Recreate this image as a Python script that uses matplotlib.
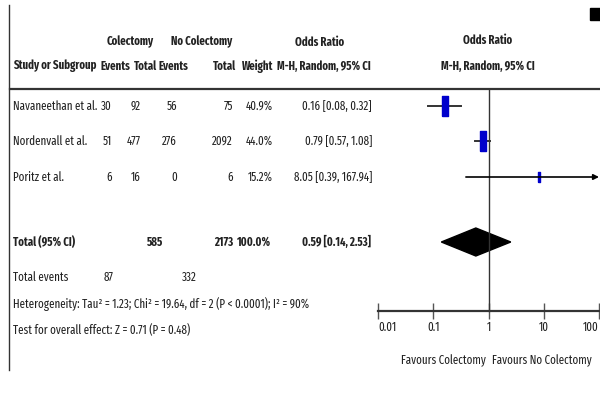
import matplotlib.pyplot as plt
from matplotlib.patches import Polygon, Rectangle

plt.rcParams['font.family'] = ['Fira Sans Extra Condensed', 'DejaVu Sans']

# Datos del forest plot
studies = ['Navaneethan et al.', 'Nordenvall et al.', 'Poritz et al.']
ev_col = [30, 51, 6]
tot_col = [92, 477, 16]
ev_nocol = [56, 276, 0]
tot_nocol = [75, 2092, 6]
weight = [40.9, 44.0, 15.2]
odds = [0.16, 0.79, 8.05]
ci_low = [0.08, 0.57, 0.39]
ci_high = [0.32, 1.08, 167.94]

total_col, total_nocol = 585, 2173
total_or, total_low, total_high = 0.59, 0.14, 2.53
events_col, events_nocol = 87, 332
ticks = [0.01, 0.1, 1, 10, 100]
tick_labels = ['0.01', '0.1', '1', '10', '100']

row_y = [106, 141, 177]
total_y = 242
fs = 8.6
fsb = 8.4
col = '#222222'

fig = plt.figure(figsize=(6, 3.94), dpi=100)
ax = fig.add_axes([0, 0, 1, 1])
ax.set_xlim(0, 600)
ax.set_ylim(394, 0)
ax.axis('off')

# bordes
ax.plot([9, 9], [5, 370], color='#333333', lw=1)
ax.plot([10, 600], [89, 89], color='#333333', lw=1.6)
ax.add_patch(Rectangle((590, 8), 10, 12, color='black'))

# cabeceras
hb = dict(fontsize=fsb, fontweight='bold', va='center', color=col)
ax.text(130, 42, 'Colectomy', ha='center', **hb)
ax.text(202, 42, 'No Colectomy', ha='center', **hb)
ax.text(320, 42, 'Odds Ratio', ha='center', **hb)
ax.text(488, 40, 'Odds Ratio', ha='center', **hb)
ax.text(13, 66, 'Study or Subgroup', ha='left', **hb)
ax.text(115, 66, 'Events', ha='center', **hb)
ax.text(145, 66, 'Total', ha='center', **hb)
ax.text(173, 66, 'Events', ha='center', **hb)
ax.text(224, 66, 'Total', ha='center', **hb)
ax.text(258, 66, 'Weight', ha='center', **hb)
ax.text(324, 66, 'M-H, Random, 95% CI', ha='center', **hb)
ax.text(488, 66, 'M-H, Random, 95% CI', ha='center', **hb)

# filas de estudios
tr = dict(fontsize=fs, va='center', ha='right', color=col)
for i, y in enumerate(row_y):
    ax.text(13, y, studies[i], fontsize=fs, va='center', ha='left', color=col)
    ax.text(112, y, str(ev_col[i]), **tr)
    ax.text(141, y, str(tot_col[i]), **tr)
    ax.text(177, y, str(ev_nocol[i]), **tr)
    ax.text(233, y, str(tot_nocol[i]), **tr)
    ax.text(273, y, f'{weight[i]:.1f}%', **tr)
    ax.text(372, y, f'{odds[i]:.2f} [{ci_low[i]:.2f}, {ci_high[i]:.2f}]', **tr)

# total
tb = dict(fontsize=fsb, va='center', fontweight='bold', color=col)
ax.text(13, total_y, 'Total (95% CI)', ha='left', **tb)
ax.text(163, total_y, str(total_col), ha='right', **tb)
ax.text(233, total_y, str(total_nocol), ha='right', **tb)
ax.text(271, total_y, '100.0%', ha='right', **tb)
ax.text(371, total_y, f'{total_or:.2f} [{total_low:.2f}, {total_high:.2f}]', ha='right', **tb)

tn = dict(fontsize=fs, va='center', color=col)
ax.text(13, 277, 'Total events', **tn)
ax.text(113, 277, str(events_col), ha='right', **tn)
ax.text(197, 277, str(events_nocol), ha='right', **tn)
ax.text(13, 304, 'Heterogeneity: Tau² = 1.23; Chi² = 19.64, df = 2 (P < 0.0001); I² = 90%', **tn)
ax.text(13, 330, 'Test for overall effect: Z = 0.71 (P = 0.48)', **tn)

ax.text(486, 361, 'Favours Colectomy', ha='right', **tn)
ax.text(492, 361, 'Favours No Colectomy', ha='left', **tn)

# panel del forest plot (escala log)
fa = fig.add_axes([378 / 600, 0, (599 - 378) / 600, 1])
fa.set_xscale('log')
fa.set_xlim(0.01, 100)
fa.set_ylim(394, 0)
fa.patch.set_alpha(0)
for s in ['top', 'left', 'right']:
    fa.spines[s].set_visible(False)
fa.spines['bottom'].set_position(('data', 311))
fa.spines['bottom'].set_linewidth(1.6)
fa.spines['bottom'].set_color('#333333')
fa.set_yticks([])
fa.set_xticks(ticks)
fa.set_xticklabels(tick_labels, fontsize=fs, color=col)
fa.get_xticklabels()[0].set_horizontalalignment('left')
fa.get_xticklabels()[-1].set_horizontalalignment('right')
fa.minorticks_off()
fa.tick_params(axis='x', direction='inout', length=12, width=1, color='#555555', pad=1)

fa.plot([1, 1], [89, 311], color='#333333', lw=1)

box = [(-0.32, -1), (0.32, -1), (0.32, 1), (-0.32, 1), (-0.32, -1)]
sizes = [14, 14, 6.5]
for i, y in enumerate(row_y):
    hi = min(ci_high[i], 100)
    if ci_high[i] > 100:
        fa.annotate('', xy=(hi, y), xytext=(ci_low[i], y),
                    arrowprops=dict(arrowstyle='-|>', color='black', lw=1.2,
                                    mutation_scale=8, shrinkA=0, shrinkB=0),
                    annotation_clip=False)
    else:
        fa.plot([ci_low[i], hi], [y, y], color='#333333', lw=1.4)
    fa.plot(odds[i], y, marker=box, markersize=sizes[i], color='#0000cc', mec='#0000cc')

fa.add_patch(Polygon([(total_low, total_y), (total_or, total_y - 14),
                      (total_high, total_y), (total_or, total_y + 14)],
                     closed=True, color='black'))

fig.savefig('out.png', dpi=100)
